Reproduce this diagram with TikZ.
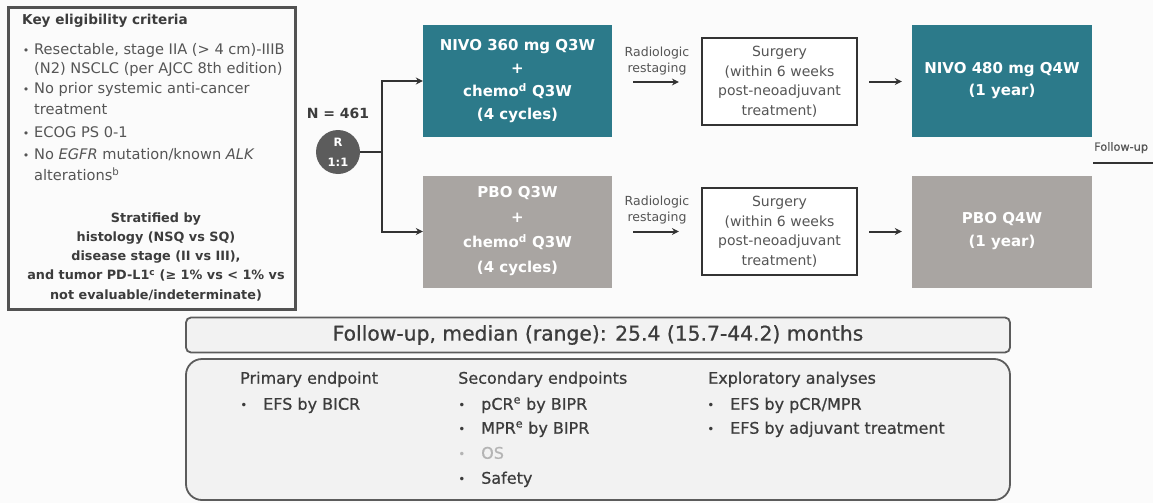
\documentclass[tikz,border=0pt]{standalone}
\usepackage{fontspec}
\setmainfont{DejaVu Sans}
\newfontfamily\semib{DejaVu Sans}[FakeBold=0.7]
\usetikzlibrary{arrows.meta}
\definecolor{tealc}{HTML}{2C7A8A}
\definecolor{greyc}{HTML}{A9A5A2}
\definecolor{txt}{HTML}{3C3C3C}
\definecolor{ltxt}{HTML}{555555}
\definecolor{panel}{HTML}{F2F2F2}
\definecolor{bgc}{HTML}{FBFBFB}
\definecolor{circc}{HTML}{5C5C5C}
\definecolor{linec}{HTML}{333333}
\definecolor{osc}{HTML}{B4B4B4}
\newcommand{\fs}[1]{\fontsize{#1}{#1}\selectfont}
\tikzset{
  ltext/.style={anchor=mid west, inner sep=0pt, text=ltxt, font=\fs{14.6}},
  lhead/.style={anchor=mid west, inner sep=0pt, text=txt, font=\fs{13.6}\bfseries},
  strat/.style={anchor=mid, inner sep=0pt, text=txt, font=\fs{12.8}\bfseries},
  arm/.style={inner sep=0pt, text=white, align=center, minimum width=189pt, minimum height=112pt},
  adj/.style={inner sep=0pt, text=white, align=center, minimum width=180pt, minimum height=112pt},
  surgbox/.style={draw=linec, line width=2.2pt, fill=white, inner sep=0pt, text=ltxt, align=center,
    minimum width=155pt, minimum height=87pt, font=\fontsize{14}{19.5}\selectfont},
  radtext/.style={inner sep=0pt, text=ltxt, align=center, font=\fontsize{12.5}{15.5}\selectfont},
  arr/.style={draw=linec, line width=2pt, -{Stealth[length=7pt,width=7pt]}},
  plain/.style={draw=linec, line width=2pt},
  ehead/.style={anchor=mid west, inner sep=0pt, text=txt, font=\fs{16}\semib},
  eitem/.style={anchor=mid west, inner sep=0pt, text=txt, font=\fs{16}\semib},
  ebul/.style={anchor=mid, inner sep=0pt, text=txt, font=\fs{12}},
}
\begin{document}
\begin{tikzpicture}[x=1pt,y=-1pt]
\clip (0,0) rectangle (1153,503);
\fill[bgc] (0,0) rectangle (1153,503);

% left eligibility box
\draw[draw=linec!85, line width=3pt, fill=bgc] (8,8) rectangle (295,309);
\node[lhead] (keyh) at (22,22) {Key eligibility criteria};
\node[ltext, anchor=mid] (b1) at (26,52) {\fs{11}•};
\node[ltext] (l1a) at (34,52) {Resectable, stage IIA (> 4 cm)-IIIB};
\node[ltext] (l1b) at (34,71) {(N2) NSCLC (per AJCC 8th edition)};
\node[ltext, anchor=mid] (b2) at (26,91) {\fs{11}•};
\node[ltext] (l2a) at (34,91) {No prior systemic anti-cancer};
\node[ltext] (l2b) at (34,112) {treatment};
\node[ltext, anchor=mid] (b3) at (26,135) {\fs{11}•};
\node[ltext] (l3a) at (34,135) {ECOG PS 0-1};
\node[ltext, anchor=mid] (b4) at (26,157) {\fs{11}•};
\node[ltext] (l4a) at (34,157) {No \textit{EGFR} mutation/known \textit{ALK}};
\node[ltext] (l4b) at (34,178) {alterations\textsuperscript{b}};
\node[strat] (s1) at (156,220) {Stratified by};
\node[strat] (s2) at (156,239) {histology (NSQ vs SQ)};
\node[strat] (s3) at (156,258) {disease stage (II vs III),};
\node[strat] (s4) at (156,277) {and tumor PD-L1\textsuperscript{c} (≥ 1\% vs < 1\% vs};
\node[strat] (s5) at (156,297) {not evaluable/indeterminate)};

% randomisation
\node[inner sep=0pt, text=txt, font=\fs{14}\bfseries] (n) at (338,113) {N = 461};
\node[circle, fill=circc, minimum size=44pt, inner sep=0pt, text=white, align=center,
      font=\fontsize{11.5}{20}\selectfont\bfseries] (rnd) at (338,152) {R\\1:1};

% arms
\node[arm, fill=tealc, font=\fontsize{15}{23}\selectfont\bfseries] (arm1) at (517.5,81)
  {NIVO 360 mg Q3W\\+\\chemo\textsuperscript{d} Q3W\\(4 cycles)};
\node[arm, fill=greyc, font=\fontsize{15}{25}\selectfont\bfseries] (arm2) at (517.5,231.5)
  {PBO Q3W\\+\\chemo\textsuperscript{d} Q3W\\(4 cycles)};

\coordinate (brk) at (382,152);
\draw[plain] (rnd.east) -- (brk);
\draw[arr] (brk) |- (arm1.west);
\draw[arr] (brk) |- (arm2.west);

% radiologic restaging
\node[radtext] (rad1) at (657,61) {Radiologic\\restaging};
\node[radtext] (rad2) at (657,210) {Radiologic\\restaging};

% surgery
\node[surgbox] (surg1) at (779.5,81.5) {Surgery\\(within 6 weeks\\post-neoadjuvant\\treatment)};
\node[surgbox] (surg2) at (779.5,231.5) {Surgery\\(within 6 weeks\\post-neoadjuvant\\treatment)};

\draw[arr] ([xshift=21pt,yshift=-1pt]arm1.east) -- ([xshift=-22pt,yshift=-1pt]surg1.west |- arm1.east);
\draw[arr] ([xshift=21pt]arm2.east) -- ([xshift=-22pt]surg2.west);

% adjuvant
\node[adj, fill=tealc, font=\fontsize{15}{22}\selectfont\bfseries] (adj1) at (1002,81)
  {NIVO 480 mg Q4W\\(1 year)};
\node[adj, fill=greyc, font=\fontsize{15}{23}\selectfont\bfseries] (adj2) at (1002,231.5)
  {PBO Q4W\\(1 year)};

\draw[arr] ([xshift=11pt]surg1.east) -- ([xshift=-10pt]adj1.west |- surg1.east);
\draw[arr] ([xshift=11pt]surg2.east) -- ([xshift=-10pt]adj2.west);

% follow-up at right edge
\coordinate (fu) at (1093,163);
\draw[draw=linec, line width=2.5pt] (fu) -- ++(70,0);
\node[anchor=mid west, inner sep=0pt, text=ltxt, font=\fs{11.3}\semib] (fut) at (1094,148) {Follow-up};

% follow-up bar
\node[draw=linec!80, line width=1.8pt, fill=panel, rounded corners=5pt, minimum width=824pt,
      minimum height=35pt, inner sep=0pt, text=txt, font=\fs{20.3}\semib] (fubar) at (598,335)
  {Follow-up, median (range): 25.4 (15.7-44.2) months};

% endpoints box
\draw[draw=linec!80, line width=1.8pt, fill=panel, rounded corners=16pt] (186,359) rectangle (1010,500);
\node[ehead] (ph) at (240,381) {Primary endpoint};
\node[ebul] (pb1) at (244,407) {•};
\node[eitem] (p1) at (263,407) {EFS by BICR};

\node[ehead] (sh) at (458,381) {Secondary endpoints};
\node[ebul] (sb1) at (462,407) {•};
\node[eitem] (s1i) at (481,407) {pCR\textsuperscript{e} by BIPR};
\node[ebul] (sb2) at (462,431) {•};
\node[eitem] (s2i) at (481,431) {MPR\textsuperscript{e} by BIPR};
\node[ebul, text=osc] (sb3) at (462,456) {•};
\node[eitem, text=osc] (s3i) at (481,456) {OS};
\node[ebul] (sb4) at (462,481) {•};
\node[eitem] (s4i) at (481,481) {Safety};

\node[ehead] (xh) at (708,381) {Exploratory analyses};
\node[ebul] (xb1) at (711,407) {•};
\node[eitem] (x1) at (730,407) {EFS by pCR/MPR};
\node[ebul] (xb2) at (711,431) {•};
\node[eitem] (x2) at (730,431) {EFS by adjuvant treatment};
\end{tikzpicture}
\end{document}
